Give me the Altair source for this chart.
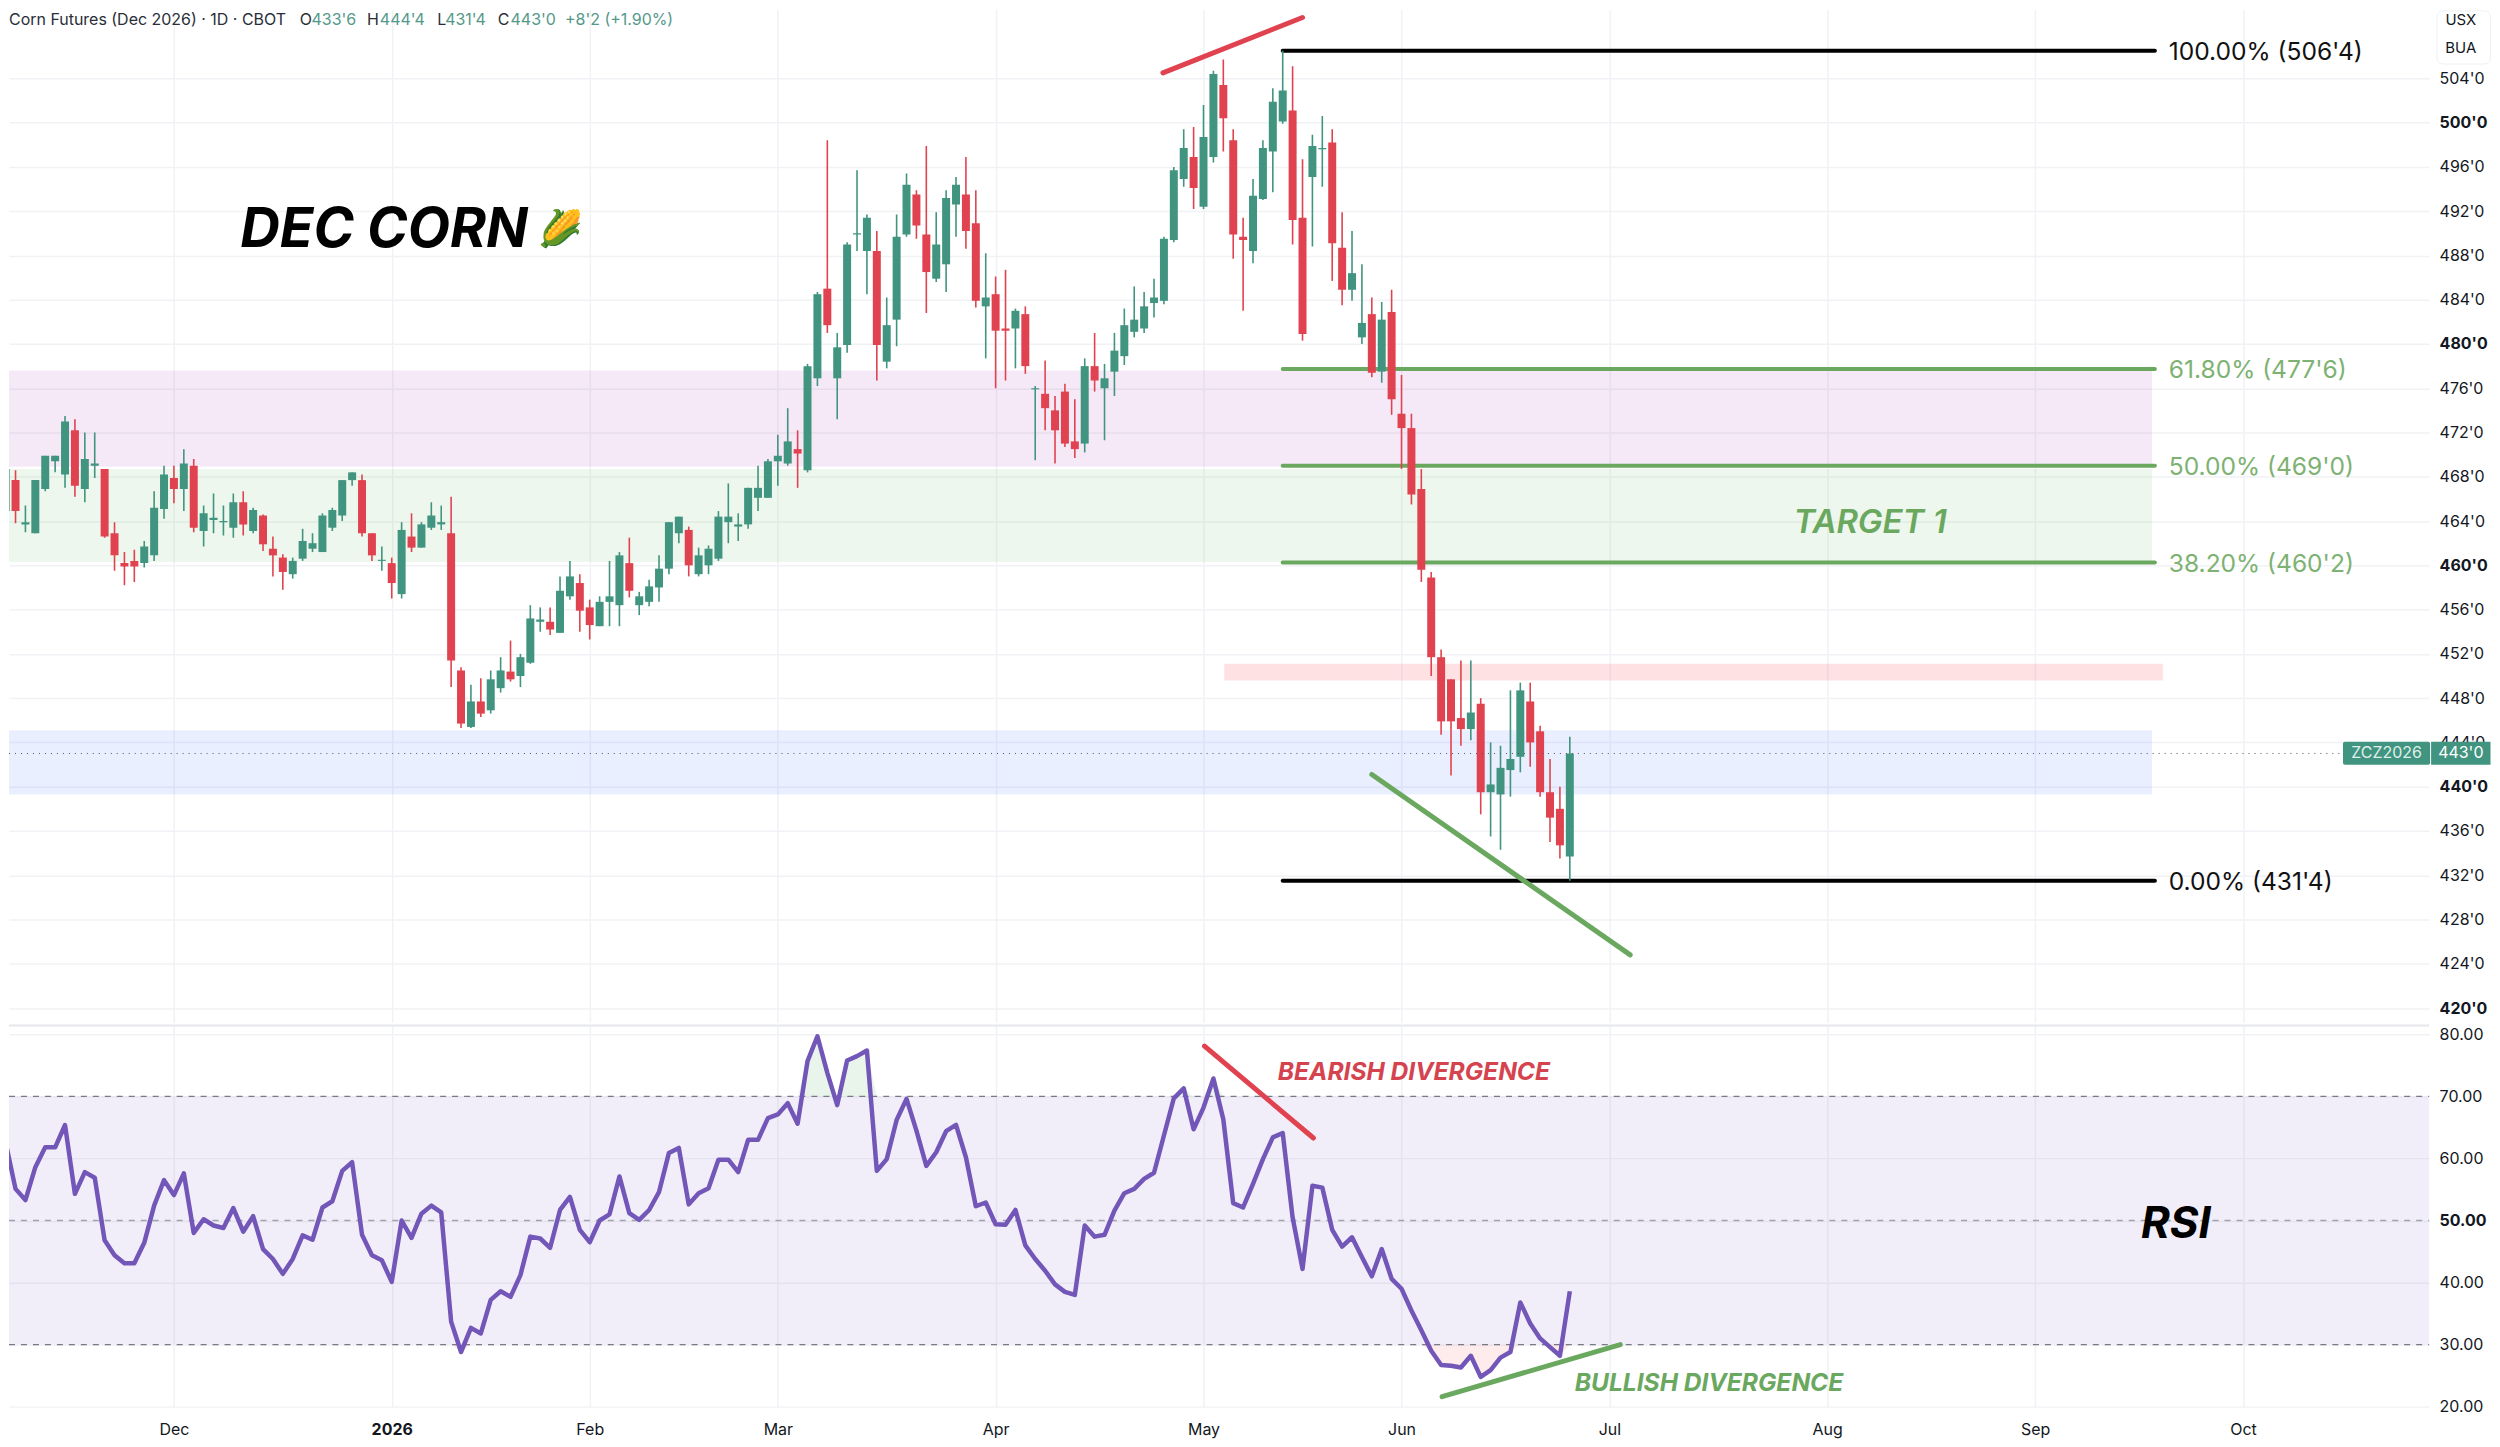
import altair as alt
import pandas as pd

opens = [464.9,467.7,463.7,462.9,466.9,469.4,468.2,472.2,466.9,469.0,468.7,462.9,460.2,460.4,460.2,460.9,465.1,467.9,466.9,469.0,
463.1,464.1,463.9,463.4,465.7,463.1,464.5,461.5,460.7,459.2,460.6,461.5,461.2,463.4,464.5,467.7,467.7,462.9,460.4,460.2,
457.4,462.6,461.6,463.4,463.7,462.9,450.5,445.4,447.7,446.9,448.9,450.4,450.0,451.2,454.9,454.9,453.9,457.2,458.4,456.2,
454.5,456.7,456.4,460.2,456.4,456.7,458.0,459.7,462.9,463.2,459.2,460.0,460.6,463.9,463.5,463.7,466.1,466.1,469.4,469.2,
470.5,468.6,476.9,485.0,476.9,479.9,489.9,488.4,488.4,478.4,482.2,489.9,493.5,489.9,485.9,487.2,492.6,493.5,490.9,483.4,
484.5,481.4,481.4,482.7,475.9,475.5,474.0,475.7,471.2,471.0,478.0,476.0,477.5,478.9,481.1,481.4,483.7,483.9,489.4,494.9,
496.9,492.4,496.9,503.4,498.4,489.7,488.4,493.1,497.4,500.1,501.1,491.4,495.1,497.6,498.2,488.7,484.9,480.6,482.7,477.5,
482.9,473.7,472.4,466.9,458.9,451.7,449.7,446.2,445.2,447.5,439.5,439.3,441.5,442.7,447.7,445.0,439.5,438.0,433.7]
highs = [468.9,468.6,465.4,467.7,469.9,469.9,473.5,473.2,472.0,472.0,468.7,463.9,461.2,461.4,462.2,466.7,469.0,469.0,470.5,469.6,
465.4,466.5,465.4,466.5,466.7,465.2,464.6,462.6,461.0,460.7,463.3,462.9,464.7,465.2,467.7,468.4,468.2,462.9,461.7,460.7,
463.9,464.7,463.9,465.7,465.4,466.2,450.8,449.2,449.8,450.5,451.7,453.2,452.0,456.4,456.2,456.2,459.0,460.4,459.2,456.9,
457.2,460.4,461.2,462.5,457.6,458.7,460.9,463.9,464.4,463.5,461.6,461.8,464.9,467.4,464.7,467.0,469.0,469.6,471.8,474.2,
472.2,478.2,484.7,498.4,481.0,489.2,495.7,491.7,490.2,484.2,491.7,495.4,493.9,497.9,491.9,493.9,495.1,496.9,493.9,488.2,
486.1,486.7,483.2,483.4,476.2,478.5,475.3,476.4,475.0,478.7,481.0,478.2,481.0,483.2,485.2,484.7,485.9,489.7,496.0,499.4,
499.6,501.6,504.7,505.7,499.4,491.4,494.9,498.4,503.1,506.5,505.1,496.7,498.9,500.6,499.4,491.9,490.2,487.2,484.2,483.8,
484.9,477.2,473.7,468.7,459.4,452.4,449.7,451.4,451.4,448.0,444.0,443.7,448.7,449.4,449.4,445.5,442.5,440.0,444.5]
lows = [464.0,463.8,463.0,462.9,466.7,468.4,467.0,466.2,465.7,467.9,462.5,459.5,458.2,458.5,459.8,460.4,464.2,465.6,464.9,463.0,
461.7,462.9,462.7,462.5,462.7,462.9,461.3,459.0,457.8,458.8,460.4,461.2,461.2,463.1,464.0,467.2,462.6,460.4,459.5,457.0,
457.0,461.2,461.6,463.2,463.2,449.0,445.3,445.3,446.3,446.6,448.5,449.5,449.0,451.1,454.0,453.7,453.9,456.9,454.0,453.3,
454.5,454.5,454.5,457.1,455.5,456.3,456.7,459.2,462.0,459.0,459.0,459.2,460.4,462.0,462.2,463.3,464.9,466.1,467.2,469.0,
467.0,468.4,476.2,481.0,473.2,479.2,488.4,484.5,476.7,477.8,479.8,489.7,489.5,482.8,485.6,484.7,489.7,488.6,483.3,478.7,
476.0,476.7,477.8,477.3,469.5,472.2,469.2,470.7,469.7,470.2,475.7,471.3,475.3,478.1,480.6,481.0,482.4,483.6,489.2,494.2,
492.2,492.2,496.4,497.4,487.7,483.0,487.3,493.0,493.7,499.9,489.0,480.3,488.8,494.2,485.7,483.5,483.9,480.0,477.0,476.5,
473.6,468.7,465.5,458.5,450.0,444.7,441.0,443.7,444.2,437.5,435.5,434.3,439.1,441.3,441.8,439.1,435.0,433.5,431.5]
closes = [468.7,464.9,463.9,467.7,469.9,469.9,473.0,467.2,469.6,469.2,462.6,460.9,459.9,459.9,461.7,465.2,468.2,466.9,469.2,463.4,
464.7,464.3,464.0,465.7,463.7,465.0,461.9,460.9,459.4,460.4,462.2,462.0,464.5,465.0,467.7,468.4,462.9,460.9,460.5,458.4,
463.2,461.6,463.7,464.5,463.9,451.4,445.7,447.7,446.6,449.7,450.5,449.7,451.7,455.2,455.1,454.2,457.7,459.0,455.9,454.6,
456.7,457.2,460.9,457.7,457.2,458.1,459.7,463.9,464.4,460.0,460.9,461.5,464.4,464.4,463.7,467.0,467.0,469.4,469.9,471.2,
470.1,478.0,484.5,481.7,479.7,489.0,490.0,491.4,479.9,481.7,489.7,494.4,490.7,486.5,489.0,493.2,494.4,490.2,483.9,484.2,
481.2,481.2,483.0,478.0,476.0,474.2,472.2,471.0,470.5,478.0,476.7,476.9,479.4,481.7,482.2,483.4,484.2,489.5,495.7,497.7,
494.1,498.7,504.4,500.4,489.9,489.4,493.4,497.7,501.9,502.9,491.2,480.9,497.9,497.7,489.1,484.9,486.4,481.9,477.4,482.2,
475.0,472.4,466.4,459.6,451.7,445.9,445.9,445.2,446.7,439.5,440.2,441.7,442.5,448.7,444.0,439.5,437.2,434.7,443.0]
rsi = [62.6,55.1,53.3,58.6,61.8,61.8,65.4,54.3,57.8,56.9,46.8,44.4,43.1,43.1,46.4,52.4,56.5,54.1,57.6,48.0,
50.2,49.2,48.8,52.0,48.2,50.7,45.4,43.8,41.4,43.8,47.6,46.9,52.1,53.1,58.0,59.4,47.7,44.4,43.6,40.1,
50.0,47.2,51.1,52.4,51.3,33.7,28.8,32.7,31.8,37.2,38.6,37.7,41.2,47.4,47.1,45.6,51.7,53.8,48.5,46.5,
50.0,51.0,57.1,51.2,50.1,51.7,54.6,60.9,61.7,52.6,54.4,55.2,59.8,59.8,57.8,63.0,63.0,66.5,67.1,68.9,
65.6,75.7,79.7,73.8,68.6,75.8,76.5,77.4,58.0,59.9,66.2,69.6,64.5,58.8,61.0,64.4,65.4,60.2,52.3,52.9,
49.4,49.3,51.7,46.0,43.8,41.9,39.7,38.5,38.0,49.2,47.4,47.7,51.6,54.4,55.1,56.7,57.7,63.7,69.7,71.3,
64.7,68.2,72.9,66.3,52.8,52.1,55.9,59.9,63.4,64.1,50.5,42.2,55.6,55.3,48.5,45.8,47.3,44.1,41.0,45.4,
40.6,39.0,35.5,32.3,29.0,26.7,26.6,26.3,28.2,24.8,25.9,27.9,28.8,36.8,33.4,31.0,29.6,28.2,38.6]

month_idx = [17, 39, 59, 78, 100, 121, 141, 162, 184, 205, 226]
month_txt = ["Dec", "2026", "Feb", "Mar", "Apr", "May", "Jun", "Jul", "Aug", "Sep", "Oct"]
price_ticks = list(range(420, 505, 4))
rsi_ticks = [20, 30, 40, 50, 60, 70, 80]

GREEN = "#41947f"
RED = "#e0434f"
FIB = "#6aa85f"
FIBTXT = "#7db272"
FONT = "Inter"
GRID = "#f1f2f5"
XD = [0.34, 244.8]
PD = [418.7, 510.23]
RD = [19.84, 81.45]
W, H1, H2 = 2425, 1015, 383
xs = alt.Scale(domain=XD, nice=False, zero=False, padding=0)
ps = alt.Scale(domain=PD, nice=False, zero=False)
rs = alt.Scale(domain=RD, nice=False, zero=False)

ax_xp = alt.Axis(values=month_idx, labels=False, ticks=False, domain=False, grid=True, gridColor=GRID, gridWidth=1.5, title=None)
ax_xr = alt.Axis(values=month_idx, labelExpr="%s[indexof(%s, datum.value)]" % (month_txt, month_idx), ticks=False, domain=False,
                 grid=True, gridColor=GRID, gridWidth=1.5, labelFont=FONT, labelFontSize=16, labelColor="#131722",
                 labelPadding=14, labelAngle=0, labelFlush=False, labelOverlap=False, title=None,
                 labelFontWeight={"expr": "datum.value === 39 ? 700 : 400"})
ax_yp = alt.Axis(orient="right", values=price_ticks, ticks=False, domain=False, grid=True, gridColor=GRID, gridWidth=1.5,
                 labelExpr="datum.value + \"'0\"", labelFont=FONT, labelFontSize=16, labelColor="#131722", title=None,
                 labelPadding=10, labelFontWeight={"expr": "datum.value % 20 === 0 ? 700 : 400"})
ax_yr = alt.Axis(orient="right", values=rsi_ticks, ticks=False, domain=False, grid=True, gridColor=GRID, gridWidth=1.5,
                 format=".2f", labelFont=FONT, labelFontSize=16, labelColor="#131722", labelPadding=10, title=None,
                 labelFontWeight={"expr": "datum.value === 50 ? 700 : 400"})


def enc_x(panel, field="x:Q"):
    return alt.X(field, scale=xs, axis=ax_xp if panel == "p" else ax_xr, title=None)


def enc_y(panel, field="y:Q"):
    return alt.Y(field, scale=ps if panel == "p" else rs, axis=ax_yp if panel == "p" else ax_yr, title=None)


n = len(closes)
candles = pd.DataFrame({"x": list(range(n)), "o": opens, "h": highs, "l": lows, "c": closes})
candles["d"] = ["up" if c >= o else "down" for o, c in zip(opens, closes)]
col = alt.Color("d:N", scale=alt.Scale(domain=["up", "down"], range=[GREEN, RED]), legend=None)


def rect(x, x2, y, y2, fill, panel="p", **kw):
    d = pd.DataFrame({"x": [x], "x2": [x2], "y": [y], "y2": [y2]})
    return alt.Chart(d).mark_rect(fill=fill, **kw).encode(x=enc_x(panel), x2="x2:Q", y=enc_y(panel), y2="y2:Q")


def seg(x, x2, y, y2, color, width, panel="p", **kw):
    d = pd.DataFrame({"x": [x, x2], "y": [y, y2]})
    return alt.Chart(d).mark_line(color=color, strokeWidth=width, strokeCap="round", strokeJoin="round", clip=False, **kw).encode(
        x=enc_x(panel), y=enc_y(panel))


def txt(x, y, t, size, color, panel="p", align="left", weight=400, style="normal", font=FONT):
    d = pd.DataFrame({"x": [x], "y": [y], "t": [t]})
    return alt.Chart(d).mark_text(align=align, baseline="middle", fontSize=size, color=color, fontWeight=weight,
                                  fontStyle=style, font=font).encode(x=enc_x(panel), y=enc_y(panel), text="t:N")


zones = [
    rect(0.34, 216.8, 477.6, 468.9, "#9c27b0", opacity=0.1),
    rect(0.34, 216.8, 468.7, 460.3, "#4caf50", opacity=0.1),
    rect(0.34, 216.8, 445.1, 439.3, "#2962ff", opacity=0.1),
    rect(123.1, 217.9, 451.1, 449.6, "#f23645", opacity=0.15),
]
fibs = [
    seg(129, 217.1, 506.5, 506.5, "#000000", 4),
    seg(129, 217.1, 431.5, 431.5, "#000000", 4),
    seg(129, 217.1, 477.75, 477.75, FIB, 4),
    seg(129, 217.1, 469, 469, FIB, 4),
    seg(129, 217.1, 460.25, 460.25, FIB, 4),
]
wicks = alt.Chart(candles).mark_rule(strokeWidth=1.6, clip=True).encode(
    x=enc_x("p"), y=enc_y("p", "l:Q"), y2="h:Q", color=col)
bodies = alt.Chart(candles).mark_bar(size=8, clip=True).encode(
    x=enc_x("p"), y=enc_y("p", "o:Q"), y2="c:Q", color=col)
last = alt.Chart(pd.DataFrame({"x": [0.34], "x2": [236.1], "y": [443.0]})).mark_rule(
    color="#50535e", strokeWidth=1, strokeDash=[1, 5]).encode(x=enc_x("p"), x2="x2:Q", y=enc_y("p"))

tags = [
    rect(245.6, 251.0, 510.1, 505.3, "#ffffff", stroke="#eef0f3", strokeWidth=1, cornerRadius=6),
    rect(236.1, 244.9, 444.05, 441.97, GREEN, cornerRadius=2),
    rect(245.0, 251.0, 444.05, 441.97, GREEN),
    txt(240.5, 443, "ZCZ2026", 16, "#dff0ea", align="center"),
    txt(248.0, 443, "443'0", 16, "#ffffff", align="center"),
    txt(248.0, 509.25, "USX", 15, "#131722", align="center"),
    txt(248.0, 506.75, "BUA", 15, "#131722", align="center"),
]
HY = 509.25
texts = [
    seg(116.9, 131.0, 504.5, 509.5, RED, 5),
    seg(138, 164.1, 441.1, 424.8, FIB, 5),
    txt(23.7, 490.3, "DEC CORN", 55, "#000000", weight=700, style="italic"),
    txt(53.8, 490.3, "🌽", 36, "#000000", font="Noto Color Emoji"),
    txt(180.6, 463.8, "TARGET 1", 33, FIB, weight=600, style="italic"),
    txt(218.5, 506.3, "100.00% (506'4)", 24.6, "#111111"),
    txt(218.5, 477.55, "61.80% (477'6)", 24.6, FIBTXT),
    txt(218.5, 468.8, "50.00% (469'0)", 24.6, FIBTXT),
    txt(218.5, 460.05, "38.20% (460'2)", 24.6, FIBTXT),
    txt(218.5, 431.3, "0.00% (431'4)", 24.6, "#111111"),
    txt(0.34, HY, "Corn Futures (Dec 2026) · 1D · CBOT", 16, "#2a2e39"),
    txt(29.7, HY, "O", 16, "#2a2e39"),
    txt(30.9, HY, "433'6", 16, "#54988a"),
    txt(36.5, HY, "H", 16, "#2a2e39"),
    txt(37.8, HY, "444'4", 16, "#54988a"),
    txt(43.6, HY, "L", 16, "#2a2e39"),
    txt(44.4, HY, "431'4", 16, "#54988a"),
    txt(49.7, HY, "C", 16, "#2a2e39"),
    txt(51.0, HY, "443'0", 16, "#54988a"),
    txt(56.5, HY, "+8'2 (+1.90%)", 16, "#54988a"),
]
price = alt.layer(*zones, *fibs, wicks, bodies, last, *tags, *texts).properties(width=W, height=H1)

rsi_df = pd.DataFrame({"x": list(range(n)), "y": rsi})
rsi_df["ob"] = [max(v, 70) for v in rsi]
rsi_df["os"] = [min(v, 30) for v in rsi]
rsi_df["b70"] = 70
rsi_df["b30"] = 30
band = rect(0.34, 244.8, 70, 30, "#7e57c2", panel="r", opacity=0.1)
ob = alt.Chart(rsi_df).mark_area(color="#4caf50", opacity=0.12, clip=True).encode(
    x=enc_x("r"), y=enc_y("r", "ob:Q"), y2="b70:Q")
os_ = alt.Chart(rsi_df).mark_area(color="#f23645", opacity=0.10, clip=True).encode(
    x=enc_x("r"), y=enc_y("r", "os:Q"), y2="b30:Q")


def hline(v, color):
    d = pd.DataFrame({"x": [0.34], "x2": [244.8], "y": [v]})
    return alt.Chart(d).mark_rule(color=color, strokeWidth=1.3, strokeDash=[6, 6]).encode(
        x=enc_x("r"), x2="x2:Q", y=enc_y("r"))


line = alt.Chart(rsi_df).mark_line(color="#7256b8", strokeWidth=4.5, strokeJoin="round", clip=True).encode(
    x=enc_x("r"), y=enc_y("r"))
sep = alt.Chart(pd.DataFrame({"x": [0.34], "x2": [244.8], "y": [81.45]})).mark_rule(
    color="#e6e7ea", strokeWidth=2).encode(x=enc_x("r"), x2="x2:Q", y=enc_y("r"))
rsi_layers = [
    band, ob, os_, hline(70, "#787b86"), hline(50, "#a0a3ac"), hline(30, "#787b86"), line, sep,
    seg(121.1, 132.1, 78.1, 63.3, RED, 5, panel="r"),
    seg(145.1, 163.1, 21.6, 30.0, FIB, 5, panel="r"),
    txt(128.5, 73.8, "BEARISH DIVERGENCE", 24.6, "#d5434f", panel="r", weight=700, style="italic"),
    txt(158.5, 23.7, "BULLISH DIVERGENCE", 24.6, FIB, panel="r", weight=700, style="italic"),
    txt(215.7, 49.3, "RSI", 44, "#000000", panel="r", weight=700, style="italic"),
]
rsi_panel = alt.layer(*rsi_layers).properties(width=W, height=H2)

chart = alt.vconcat(price, rsi_panel, spacing=2).configure_view(stroke=None).properties(
    padding=0, background="#ffffff")
chart.save("out.html", embed_options={"renderer": "svg", "actions": False})
